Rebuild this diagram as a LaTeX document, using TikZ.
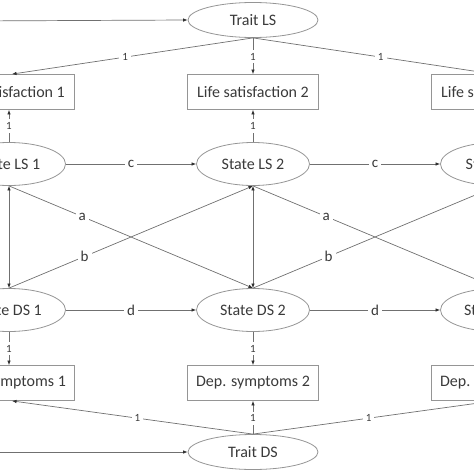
\documentclass[tikz,border=0pt]{standalone}
\usepackage{fontspec}
\setmainfont{Carlito}
\usetikzlibrary{arrows.meta,shapes.geometric}
\definecolor{ln}{HTML}{707070}
\definecolor{bd}{HTML}{959595}
\definecolor{tx}{HTML}{3A3A3A}
\definecolor{tip}{HTML}{303030}
\tikzset{
  lat/.style={ellipse,draw=bd,line width=0.8pt,minimum width=113pt,minimum height=43pt,inner sep=0pt,text=tx,font=\fontsize{16}{18}\selectfont},
  trait/.style={lat,minimum width=130pt,minimum height=35pt},
  obs/.style={rectangle,draw=bd,line width=0.8pt,minimum width=131pt,minimum height=35pt,inner sep=0pt,text=tx,font=\fontsize{16}{18}\selectfont},
  arr/.style={draw=ln,line width=0.7pt,-{Latex[length=4.5pt,width=3.5pt,color=tip]}},
  darr/.style={draw=ln,line width=0.7pt,{Latex[length=4.5pt,width=3.5pt,color=tip]}-{Latex[length=4.5pt,width=3.5pt,color=tip]}},
  one/.style={fill=white,text=tx,font=\fontsize{11}{12}\selectfont,inner sep=3pt},
  coef/.style={fill=white,text=tx,font=\fontsize{15}{17}\selectfont,inner sep=3pt}
}
\begin{document}
\begin{tikzpicture}[x=1pt,y=-1pt]
\useasboundingbox (0,0) rectangle (474,474);
\clip (0,0) rectangle (474,474);
% trait nodes
\node[trait] (TLS) at (253,20) {Trait LS};
\node[trait] (TDS) at (253,452) {Trait DS};
% observed LS
\node[obs] (LS1) at (9,92) {Life satisfaction 1};
\node[obs] (LS2) at (253,92) {Life satisfaction 2};
\node[obs] (LS3) at (497,92) {Life satisfaction 3};
% state LS
\node[lat] (SLS1) at (9,164) {State LS 1};
\node[lat] (SLS2) at (253,164) {State LS 2};
\node[lat] (SLS3) at (497,164) {State LS 3};
% state DS
\node[lat] (SDS1) at (9,310) {State DS 1};
\node[lat] (SDS2) at (253,310) {State DS 2};
\node[lat] (SDS3) at (497,310) {State DS 3};
% observed DS
\node[obs] (DS1) at (9,383) {Dep. symptoms 1};
\node[obs] (DS2) at (253,383) {Dep. symptoms 2};
\node[obs] (DS3) at (497,383) {Dep. symptoms 3};
% incoming arrows from left
\coordinate (inLS) at (-30,21);
\coordinate (inDS) at (-30,452);
\draw[arr] (inLS) -- (TLS.west);
\draw[arr] (inDS) -- (TDS.west);
% trait LS loadings
\draw[arr] (TLS.south) -- node[one,pos=0.53]{1} ([xshift=3pt]LS1.north);
\draw[arr] (TLS.south) -- node[one,pos=0.52]{1} (LS2.north);
\draw[arr] (TLS.south) -- node[one,pos=0.53]{1} ([xshift=-3pt]LS3.north);
% trait DS loadings
\draw[arr] (TDS.north) -- node[one,pos=0.48]{1} ([xshift=3pt]DS1.south);
\draw[arr] (TDS.north) -- node[one,pos=0.48]{1} (DS2.south);
\draw[arr] (TDS.north) -- node[one,pos=0.48]{1} ([xshift=-3pt]DS3.south);
% state to observed
\foreach \i in {1,2,3}{
  \draw[arr] (SLS\i.north) -- node[one]{1} (LS\i.south);
  \draw[arr] (SDS\i.south) -- node[one]{1} (DS\i.north);
  \draw[darr] (SLS\i.south) -- (SDS\i.north);
}
% autoregressive
\draw[arr] (SLS1.east) -- node[coef]{c} (SLS2.west);
\draw[arr] (SLS2.east) -- node[coef]{c} (SLS3.west);
\draw[arr] (SDS1.east) -- node[coef]{d} (SDS2.west);
\draw[arr] (SDS2.east) -- node[coef]{d} (SDS3.west);
% cross-lagged
\draw[arr] (SLS1.south) -- node[coef,pos=0.3]{a} (SDS2.north);
\draw[arr] (SLS2.south) -- node[coef,pos=0.3]{a} (SDS3.north);
\draw[arr] (SDS1.north) -- node[coef,pos=0.31]{b} (SLS2.south);
\draw[arr] (SDS2.north) -- node[coef,pos=0.31]{b} (SLS3.south);
\end{tikzpicture}
\end{document}
